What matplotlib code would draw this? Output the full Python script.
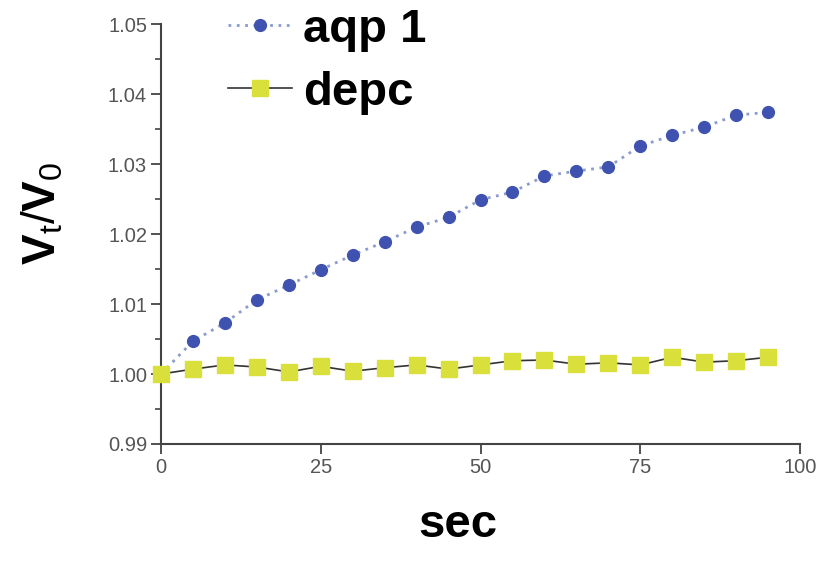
import matplotlib
matplotlib.use("Agg")
import matplotlib.pyplot as plt
from matplotlib.ticker import MultipleLocator

time_sec = [0, 5, 10, 15, 20, 25, 30, 35, 40, 45, 50, 55, 60, 65, 70, 75, 80, 85, 90, 95]
aqp1 = [1.0000, 1.0047, 1.0073, 1.0106, 1.0127, 1.0149, 1.0170, 1.0189, 1.0210, 1.0224,
        1.0249, 1.0260, 1.0283, 1.0290, 1.0296, 1.0326, 1.0341, 1.0353, 1.0370, 1.0374]
depc = [1.0000, 1.0007, 1.0013, 1.0010, 1.0003, 1.0011, 1.0004, 1.0009, 1.0013, 1.0007,
        1.0013, 1.0019, 1.0020, 1.0014, 1.0016, 1.0013, 1.0024, 1.0017, 1.0019, 1.0024]
x_ticks = [0, 25, 50, 75, 100]
y_ticks = [0.99, 1.00, 1.01, 1.02, 1.03, 1.04, 1.05]

plt.rcParams['font.family'] = ['Liberation Sans', 'DejaVu Sans']
plt.rcParams['mathtext.fontset'] = 'custom'
plt.rcParams['mathtext.rm'] = 'Liberation Sans'
plt.rcParams['mathtext.bf'] = 'Liberation Sans:bold'

fig = plt.figure(figsize=(8.36, 5.62), dpi=100)
ax = fig.add_axes([0.1926, 0.21, 0.7644, 0.747])

ax.plot(time_sec, aqp1, linestyle=(0, (1, 2)), color='#8a9ccc', linewidth=2.0,
        marker='o', markersize=8.5, markerfacecolor='#3f52b0', markeredgecolor='#3f52b0',
        label='aqp 1', clip_on=False, zorder=3)
ax.plot(time_sec, depc, linestyle='-', color='#333333', linewidth=1.2,
        marker='s', markersize=11.5, markerfacecolor='#d9e03c', markeredgecolor='#d9e03c',
        label='depc', clip_on=False, zorder=3)

ax.set_xlim(0, 100)
ax.set_ylim(0.99, 1.05)
ax.set_xticks(x_ticks)
ax.set_xticklabels([str(t) for t in x_ticks])
ax.set_yticks(y_ticks)
ax.set_yticklabels([f"{t:.2f}" for t in y_ticks])
ax.yaxis.set_minor_locator(MultipleLocator(0.005))

for s in ['top', 'right']:
    ax.spines[s].set_visible(False)
for s in ['left', 'bottom']:
    ax.spines[s].set_color('#444444')
    ax.spines[s].set_linewidth(1.5)

ax.tick_params(axis='both', which='major', direction='out', length=7, width=1.3,
               colors='#444444', labelsize=14.5, labelcolor='#555555', pad=3)
ax.tick_params(axis='y', which='minor', direction='out', length=4, width=1.2, colors='#444444')

ax.set_xlabel('sec', fontsize=34, fontweight='bold')
ax.xaxis.set_label_coords(0.465, -0.14)
ax.set_ylabel(r'$\mathbf{V}_\mathrm{t}/\mathbf{V}_\mathrm{0}$', fontsize=33)
ax.yaxis.set_label_coords(-0.15, 0.55)

leg = fig.legend(loc='upper left', bbox_to_anchor=(0.25, 1.02), frameon=False,
                 prop={'size': 34, 'weight': 'bold'}, handlelength=1.35,
                 handletextpad=0.25, labelspacing=0.4, borderaxespad=0)

fig.savefig('out.png', dpi=100, facecolor='white')
